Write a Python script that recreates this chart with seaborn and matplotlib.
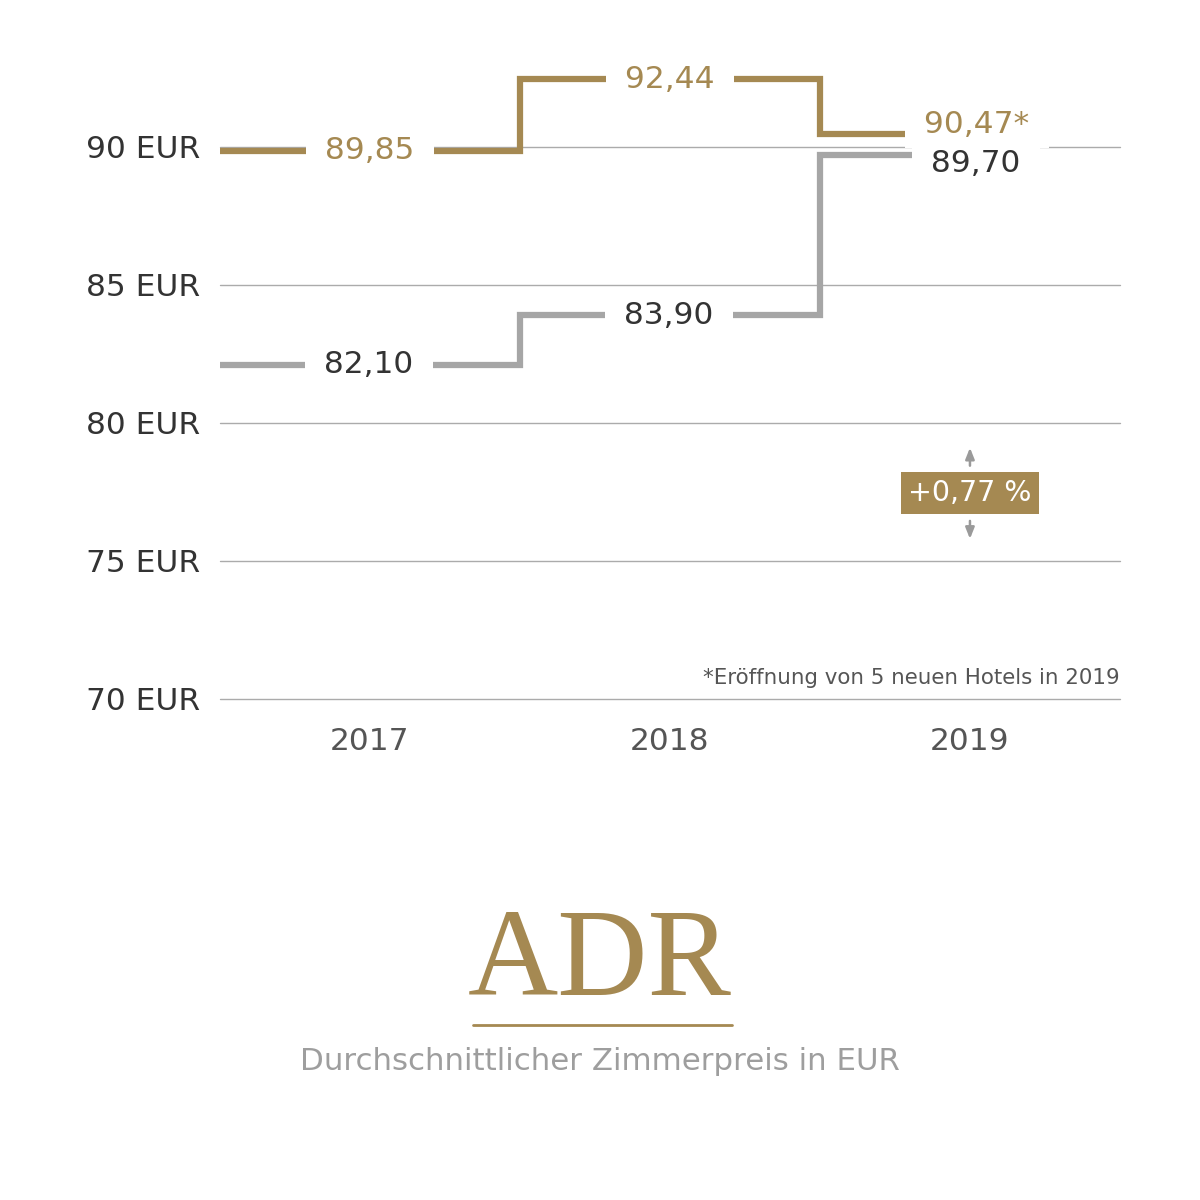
import numpy as np
import pandas as pd
import seaborn as sns
import matplotlib.pyplot as plt

# data
years = ["2017", "2018", "2019"]
adr_gold = [89.85, 92.44, 90.47]
adr_gray = [82.10, 83.90, 89.70]
gold_labels = ["89,85", "92,44", "90,47*"]
gray_labels = ["82,10", "83,90", "89,70"]
yticks = [70, 75, 80, 85, 90]
ytick_labels = [f"{t} EUR" for t in yticks]
change_label = "+0,77 %"
footnote = "*Eröffnung von 5 neuen Hotels in 2019"
title = "ADR"
subtitle = "Durchschnittlicher Zimmerpreis in EUR"

GOLD = "#A58952"
GRAY = "#A6A6A6"
GRID = "#ABABAB"
DARK = "#333333"
FS = 22.5

sns.set_theme(style="white")
plt.rcParams["font.family"] = ["DejaVu Sans"]

fig = plt.figure(figsize=(12, 12), dpi=100)
ax = fig.add_axes([0.1833, 0.4175, 0.75, 0.5292])

pos = np.arange(len(years))
# step edges: start at left border, step between categories, end under last label
edges = np.r_[pos[0] - 0.5, pos[:-1] + 0.5, pos[-1]]


def step_df(vals):
    return pd.DataFrame({"x": edges, "y": list(vals) + [vals[-1]]})


for vals, col in [(adr_gray, GRAY), (adr_gold, GOLD)]:
    sns.lineplot(data=step_df(vals), x="x", y="y", ax=ax, color=col,
                 linewidth=4.5, drawstyle="steps-post",
                 solid_joinstyle="miter", solid_capstyle="butt", zorder=3)

for t in yticks:
    ax.axhline(t, color=GRID, linewidth=1.0, zorder=1, clip_on=False)

# value labels with white boxes cutting the lines
box = dict(boxstyle="square,pad=0.3", fc="white", ec="none")
for i in range(len(years)):
    last = i == len(years) - 1
    off_g = 7 if last else 0
    off_s = -6 if last else 0
    dx = 5 if last else 0
    ax.annotate(f" {gray_labels[i]} ", (pos[i], adr_gray[i]),
                xytext=(dx - 1, off_s), textcoords="offset points",
                ha="center", va="center", fontsize=FS, color=DARK, zorder=5,
                bbox=box)
    ax.annotate(f" {gold_labels[i]} ", (pos[i], adr_gold[i]),
                xytext=(dx, off_g), textcoords="offset points",
                ha="center", va="center", fontsize=FS, color=GOLD, zorder=6,
                bbox=box)

# change badge
ax.text(pos[-1], 77.45, change_label, ha="center", va="center", fontsize=20.5,
        color="white", zorder=6,
        bbox=dict(boxstyle="square,pad=0.25", fc=GOLD, ec="none"))
arrow = dict(arrowstyle="-|>,head_width=0.22,head_length=0.55",
             color="#9A9A9A", lw=1.8, shrinkA=0, shrinkB=0)
ax.annotate("", xy=(pos[-1], 79.1), xytext=(pos[-1], 78.45), arrowprops=arrow)
ax.annotate("", xy=(pos[-1], 75.8), xytext=(pos[-1], 76.45), arrowprops=arrow)

ax.text(1.0, 70.75, footnote, transform=ax.get_yaxis_transform(),
        ha="right", va="center", fontsize=15.4, color="#555555")

ax.set_xlim(-0.5, 2.5)
ax.set_ylim(70, 93)
ax.set_xticks(pos)
ax.set_xticklabels(years, fontsize=FS, color="#555555")
ax.set_yticks(yticks)
ax.set_yticklabels(ytick_labels, fontsize=FS, color=DARK)
ax.tick_params(axis="x", length=0, pad=20)
ax.tick_params(axis="y", length=0, pad=14)
ax.set_xlabel("")
ax.set_ylabel("")
sns.despine(ax=ax, left=True, bottom=True)

# title block
fig.text(0.5, 0.1705, title, ha="center", va="baseline", fontsize=90,
         color=GOLD, family=["Liberation Serif", "DejaVu Serif"])
fig.add_artist(plt.Line2D([0.394, 0.61], [0.1458, 0.1458], color=GOLD, lw=2))
fig.text(0.5, 0.115, subtitle, ha="center", va="center", fontsize=22.2,
         color="#9E9E9E")

fig.savefig("out.png", dpi=100, facecolor="white")
